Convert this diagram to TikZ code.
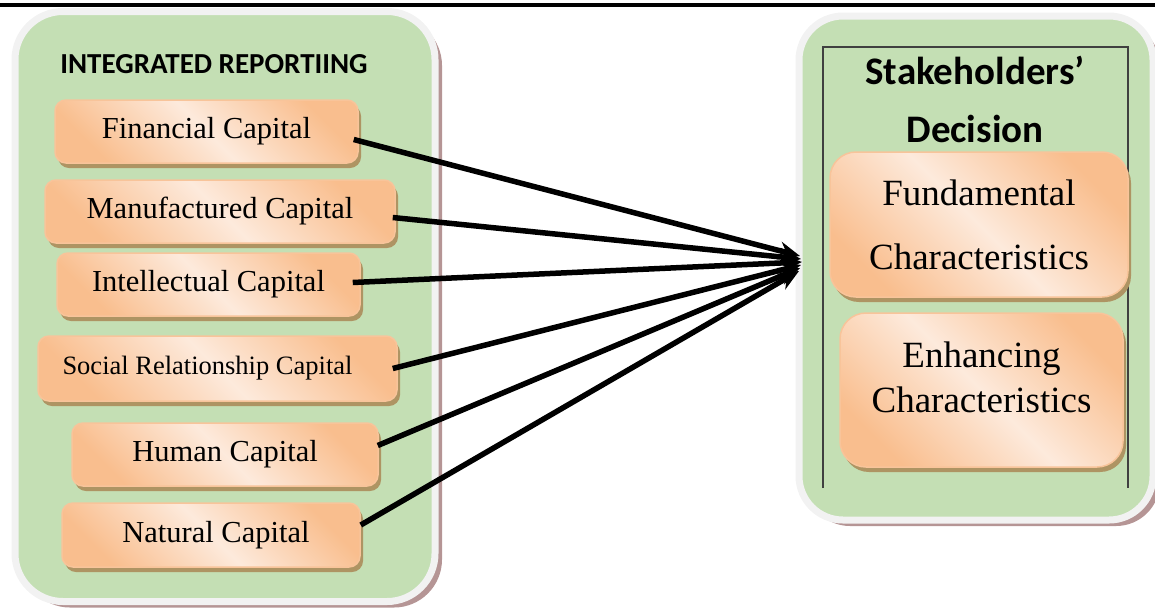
\documentclass[tikz,border=0pt]{standalone}
\usepackage{fontspec}
\setmainfont{Liberation Serif}
\newfontfamily\titlefont{Carlito}
\usetikzlibrary{shapes,arrows.meta,positioning,calc,shadows}

\definecolor{panelgreen}{HTML}{C4DFB4}
\definecolor{panelrim}{HTML}{F2F2F2}
\definecolor{panelshade}{HTML}{B59595}
\definecolor{ordark}{HTML}{F9BE8E}
\definecolor{orlight}{HTML}{FDEADC}
\definecolor{orrim}{HTML}{F8C49A}
\definecolor{orshade}{HTML}{AE9463}

\begin{document}
\begin{tikzpicture}[
      x = 1pt,y = -1pt,
      panel/.style = {rectangle,rounded corners = 48pt,fill = panelgreen,draw = panelrim,line width = 7pt,
        drop shadow = {shadow xshift = 7pt,shadow yshift = -6pt,fill = panelshade,opacity = 1}},
      capital/.style = {rectangle,rounded corners = 11pt,draw = orrim,line width = 1.5pt,
        top color = ordark,bottom color = ordark,middle color = orlight,shading angle = -45,
        drop shadow = {shadow xshift = 3pt,shadow yshift = -5pt,fill = orshade,opacity = 1},
        minimum height = 63pt,inner sep = 0pt,text centered,font = \fontsize{30.5}{36}\selectfont},
      quality/.style = {capital,rounded corners = 26pt,align = center,font = \fontsize{37}{64}\selectfont},
      title/.style = {align = center,font = \titlefont\bfseries},
      arrow/.style = {line width = 5.5pt,-{Stealth[length = 21pt,width = 18pt]}}
    ]
      \useasboundingbox (0,0) rectangle (1155,611);
      \draw [line width = 3.5pt] (0,5) -- (1155,5);

      % the two panels
      \node (ir)[panel,minimum width = 420pt,minimum height = 590pt] at (225,306.5) {};
      \node (sd)[panel,rounded corners = 44pt,minimum width = 354pt,minimum height = 504pt] at (976,268) {};
      \draw [line width = 1.2pt,black!75] (823,488) |- (1128,47) -- (1128,488);

      \node (irtitle)[title,font = \titlefont\bfseries\fontsize{29}{34}\selectfont] at (214,64) {INTEGRATED REPORTIING};
      \node (sdtitle)[title,font = \titlefont\bfseries\fontsize{39}{58}\selectfont] at (975,99) {Stakeholders’\\Decision};

      % capitals
      \node (fin)[capital,minimum width = 303pt] at (206.5,131.5) {Financial Capital};
      \node (man)[capital,minimum width = 350pt] at (220,211.5) {Manufactured Capital};
      \node (int)[capital,minimum width = 303pt] at (208.5,284.5) {Intellectual Capital};
      \node (soc)[capital,minimum width = 359pt,minimum height = 65pt,font = \fontsize{26.5}{32}\selectfont] at (217.5,368.5) {\hspace*{-20pt}Social Relationship Capital};
      \node (hum)[capital,minimum width = 306pt] at (225,454.5) {Human Capital};
      \node (nat)[capital,minimum width = 298pt,minimum height = 64pt] at (211,535) {\hspace*{10pt}Natural Capital};

      % characteristics
      \node (fund)[quality,minimum width = 298pt,minimum height = 145pt] at (979,224.5) {Fundamental\\Characteristics};
      \node (enh)[quality,minimum width = 283pt,minimum height = 154pt] at (981.5,390) {};
      \node (enhtext)[align = center,font = \fontsize{37}{45}\selectfont] at ($(enh.center)+(0,-12.5)$) {Enhancing\\Characteristics};

      \coordinate (tfin) at (800,256);
      \coordinate (tman) at (801,259);
      \coordinate (tint) at (802,262);
      \coordinate (tsoc) at (801,265);
      \coordinate (thum) at (800,268);
      \coordinate (tnat) at (799,271);

      \draw [arrow] ($(fin.east)+(-5,8)$) -- (tfin);
      \draw [arrow] ($(man.east)+(-3,6)$) -- (tman);
      \draw [arrow] ($(int.east)+(-8,-2)$) -- (tint);
      \draw [arrow] ($(soc.east)+(-5,0)$) -- (tsoc);
      \draw [arrow] ($(hum.east)+(-1,-9)$) -- (thum);
      \draw [arrow] ($(nat.east)+(0,-10)$) -- (tnat);
    \end{tikzpicture}
\end{document}
